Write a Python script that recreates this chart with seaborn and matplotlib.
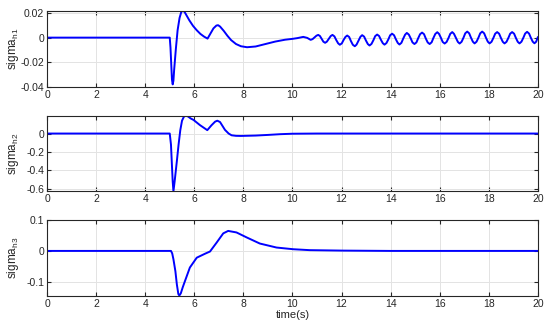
import matplotlib

matplotlib.use("Agg")
import matplotlib.pyplot as plt
import pandas as pd
import seaborn as sns

# sigma_h1: transient then a slow-growing oscillation
T1 = [0, 5.0, 5.03, 5.06, 5.09, 5.12, 5.15, 5.18, 5.25, 5.32, 5.4, 5.47, 5.53,
      5.6, 5.7, 5.8, 5.95, 6.1, 6.25, 6.4, 6.54, 6.65, 6.78, 6.9, 6.97, 7.05,
      7.2, 7.35, 7.5, 7.7, 7.9, 8.15, 8.5, 8.9, 9.3, 9.7, 10.0, 10.2, 10.44,
      10.6, 10.74, 10.82, 10.9, 10.98,
      11.05, 11.12, 11.19, 11.26, 11.33, 11.40, 11.48, 11.56,
      11.63, 11.71, 11.78, 11.86, 11.93, 12.01, 12.08, 12.16,
      12.23, 12.31, 12.38, 12.46, 12.54, 12.61, 12.69, 12.77,
      12.84, 12.92, 12.99, 13.07, 13.14, 13.22, 13.30, 13.37,
      13.45, 13.53, 13.60, 13.68, 13.75, 13.83, 13.91, 13.98,
      14.06, 14.14, 14.21, 14.29, 14.36, 14.44, 14.51, 14.59,
      14.66, 14.74, 14.82, 14.89, 14.97, 15.05, 15.12, 15.20,
      15.28, 15.36, 15.43, 15.51, 15.59, 15.67, 15.74, 15.82,
      15.90, 15.97, 16.05, 16.12, 16.20, 16.28, 16.36, 16.43,
      16.51, 16.58, 16.66, 16.74, 16.81, 16.89, 16.97, 17.04,
      17.12, 17.20, 17.27, 17.35, 17.42, 17.50, 17.58, 17.65,
      17.73, 17.81, 17.88, 17.96, 18.03, 18.11, 18.19, 18.26,
      18.34, 18.42, 18.49, 18.57, 18.64, 18.72, 18.80, 18.87,
      18.95, 19.03, 19.10, 19.18, 19.25, 19.33, 19.41, 19.48,
      19.56, 19.64, 19.71, 19.79, 19.86, 19.93, 20.0]
SIGMA_H1 = [0, 0, -0.008, -0.022, -0.034, -0.038, -0.035, -0.026, -0.009, 0.006,
            0.016, 0.0208, 0.0218, 0.021, 0.0175, 0.014, 0.0095, 0.006, 0.003,
            0.0008, -0.0008, 0.003, 0.0075, 0.0098, 0.0101, 0.009, 0.0055,
            0.0015, -0.002, -0.0052, -0.007, -0.0078, -0.0072, -0.0052, -0.0032,
            -0.0017, -0.001, -0.0004, 0.0006, -0.0002, -0.0018, -0.0012, 0.0002,
            0.0016,
            0.0022, 0.0013, -0.001, -0.0033, -0.0042, -0.0033, -0.001, 0.0013,
            0.0022, 0.001, -0.0018, -0.0046, -0.0058, -0.0047, -0.002, 0.0006,
            0.0017, 0.0005, -0.0027, -0.0058, -0.007, -0.0057, -0.0025, 0.0007,
            0.002, 0.0008, -0.0022, -0.0052, -0.0064, -0.0051, -0.002, 0.0012,
            0.0025, 0.0013, -0.0016, -0.0045, -0.0057, -0.0044, -0.0013, 0.0019,
            0.0032, 0.0019, -0.0012, -0.0043, -0.0056, -0.0042, -0.0009, 0.0024,
            0.0038, 0.0025, -0.0007, -0.0039, -0.0052, -0.0039, -0.0006, 0.0028,
            0.0041, 0.0028, -0.0006, -0.0039, -0.0052, -0.0038, -0.0004, 0.003,
            0.0044, 0.0031, -0.0002, -0.0035, -0.0048, -0.0035, -0.0002, 0.0031,
            0.0045, 0.0031, -0.0002, -0.0035, -0.0048, -0.0034, 0.0, 0.0035,
            0.0049, 0.0035, 0.0001, -0.0033, -0.0047, -0.0033, 0.0001, 0.0035,
            0.0049, 0.0035, 0.0001, -0.0033, -0.0047, -0.0034, -0.0001, 0.0032,
            0.0045, 0.0032, -0.0001, -0.0034, -0.0047, -0.0034, -0.0001, 0.0032,
            0.0045, 0.0032, -0.0001, -0.0034, -0.0047, -0.0033, 0.0, 0.0033,
            0.0047, 0.0033, 0.0, -0.0033, -0.0046, -0.0033, 0.0005]

# sigma_h2
T2 = [0, 5.0, 5.05, 5.09, 5.12, 5.15, 5.2, 5.29, 5.36, 5.43, 5.5, 5.58, 5.66,
      5.75, 5.85, 5.97, 6.23, 6.53, 6.7, 6.85, 6.94, 7.05, 7.25, 7.4, 7.52,
      7.7, 7.9, 8.5, 9.0, 9.5, 10.0, 11.0, 20.0]
SIGMA_H2 = [0, 0, -0.12, -0.35, -0.52, -0.63, -0.52, -0.3, -0.12, 0.037, 0.14,
            0.185, 0.196, 0.185, 0.165, 0.148, 0.092, 0.037, 0.09, 0.13, 0.14,
            0.125, 0.04, 0.0, -0.019, -0.025, -0.026, -0.022, -0.015, -0.007,
            -0.002, 0, 0]

# sigma_h3
T3 = [0, 5.05, 5.1, 5.15, 5.23, 5.29, 5.35, 5.39, 5.45, 5.53, 5.62, 5.82, 6.1,
      6.44, 6.64, 6.91, 7.18, 7.38, 7.72, 8.13, 8.67, 9.35, 10.03, 10.7, 12.06,
      14.0, 20.0]
SIGMA_H3 = [0, 0, -0.008, -0.027, -0.066, -0.109, -0.14, -0.145, -0.138, -0.118,
            -0.098, -0.054, -0.022, -0.009, -0.002, 0.027, 0.057, 0.065, 0.06,
            0.044, 0.024, 0.011, 0.0055, 0.0025, 0.001, 0.0, 0.0]

X_TICKS = [0, 2, 4, 6, 8, 10, 12, 14, 16, 18, 20]
Y_TICKS = [[-0.04, -0.02, 0, 0.02], [-0.6, -0.4, -0.2, 0], [-0.1, 0, 0.1]]
Y_TICK_LABELS = [["-0.04", "-0.02", "0", "0.02"], ["-0.6", "-0.4", "-0.2", "0"],
                 ["-0.1", "0", "0.1"]]
Y_LIMS = [(-0.04, 0.0215), (-0.63, 0.195), (-0.146, 0.1)]
Y_LABELS = [r"sigma$_{\rm h1}$", r"sigma$_{\rm h2}$", r"sigma$_{\rm h3}$"]

sns.set_theme(
    style="whitegrid",
    rc={
        "axes.edgecolor": "#262626",
        "axes.linewidth": 0.8,
        "grid.color": "#e3e3e3",
        "grid.linewidth": 0.7,
        "text.color": "#262626",
        "axes.labelcolor": "#262626",
        "xtick.color": "#262626",
        "ytick.color": "#262626",
    },
)
plt.rcParams["font.family"] = ["Liberation Sans", "DejaVu Sans"]
plt.rcParams["mathtext.fontset"] = "custom"
plt.rcParams["mathtext.rm"] = "Liberation Sans"

fig, axes = plt.subplots(3, 1, figsize=(5.5, 3.28), dpi=100)
fig.subplots_adjust(left=0.0855, right=0.978, top=0.966, bottom=0.098, hspace=0.38)

series = [(T1, SIGMA_H1), (T2, SIGMA_H2), (T3, SIGMA_H3)]
for i, (ax, (t, s)) in enumerate(zip(axes, series)):
    df = pd.DataFrame({"t": t, "s": s})
    sns.lineplot(data=df, x="t", y="s", ax=ax, color="#0000ff", linewidth=1.4,
                 sort=False, estimator=None)
    ax.set_xlim(0, 20)
    ax.set_ylim(*Y_LIMS[i])
    ax.set_xticks(X_TICKS)
    ax.set_xticklabels([str(v) for v in X_TICKS])
    ax.set_yticks(Y_TICKS[i])
    ax.set_yticklabels(Y_TICK_LABELS[i])
    ax.tick_params(axis="both", labelsize=7.5, direction="in", length=3, width=0.8,
                   top=True, right=True, bottom=True, left=True, pad=2)
    ax.set_ylabel(Y_LABELS[i], fontsize=8.5)
    ax.set_xlabel("")
    ax.yaxis.set_label_coords(-0.052, 0.5)
    for spine in ax.spines.values():
        spine.set_visible(True)
        spine.set_color("#262626")

axes[2].set_xlabel("time(s)", fontsize=8, labelpad=1)

plt.savefig("out.png", dpi=100, facecolor="white")
plt.close()
